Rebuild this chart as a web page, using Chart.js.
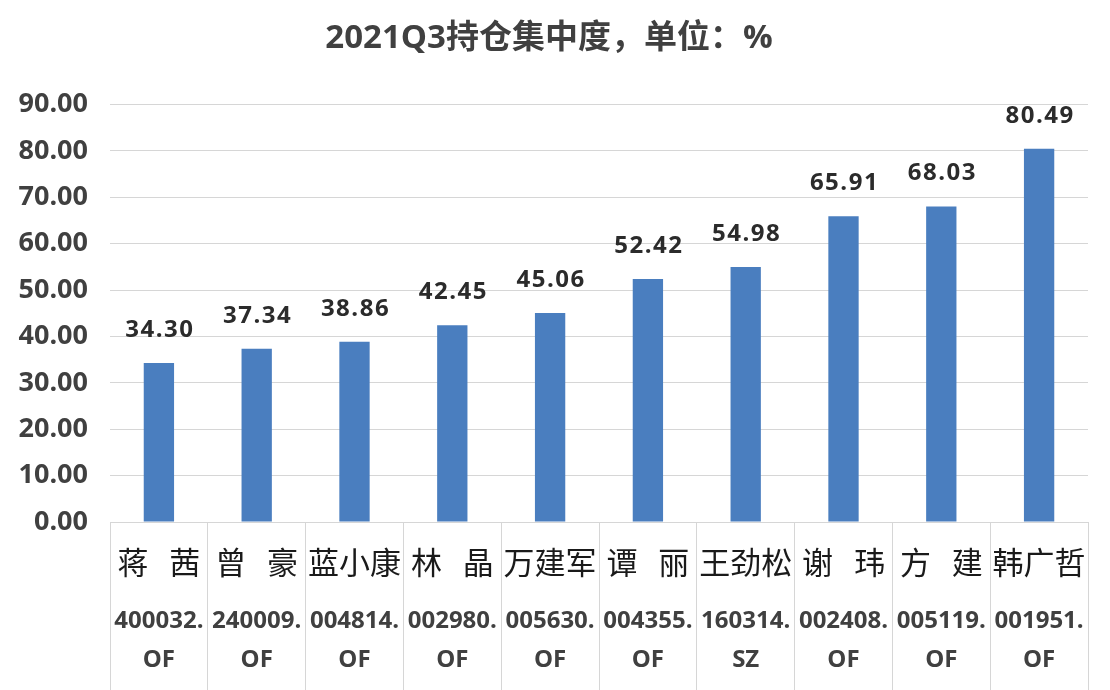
<!DOCTYPE html>
<html>
<head>
<meta charset="utf-8">
<script src="https://cdn.jsdelivr.net/npm/chart.js@4"></script>
<style>
html,body{margin:0;padding:0;background:#fff;}
#wrap{width:1110px;height:690px;position:relative;}
</style>
</head>
<body>
<div id="wrap"><canvas id="c"></canvas></div>
<script>
const titleText = '2021Q3持仓集中度，单位：%';
const managers = ['蒋   茜','曾   豪','蓝小康','林   晶','万建军','谭   丽','王劲松','谢   玮','方   建','韩广哲'];
const fundCodes = ['400032.','240009.','004814.','002980.','005630.','004355.','160314.','002408.','005119.','001951.'];
const codeSuffix = ['OF','OF','OF','OF','OF','OF','SZ','OF','OF','OF'];
const concentration = [34.30,37.34,38.86,42.45,45.06,52.42,54.98,65.91,68.03,80.49];
const yTicks = [0,10,20,30,40,50,60,70,80,90];

const codeLabels = fundCodes.map((c,i)=>[c, codeSuffix[i]]);

const valueLabels = {
  id:'valueLabels',
  afterDatasetsDraw(chart){
    const ctx = chart.ctx;
    const meta = chart.getDatasetMeta(0);
    ctx.save();
    ctx.font = 'bold 24px "Open Sans", "Noto Sans"';
    ctx.fillStyle = '#2b2b2b';
    ctx.textAlign = 'center';
    ctx.textBaseline = 'middle';
    try { ctx.letterSpacing = '1.5px'; } catch(e) {}
    meta.data.forEach((bar,i)=>{
      ctx.fillText(concentration[i].toFixed(2), bar.x + 1, bar.y - 33);
    });
    ctx.restore();
  }
};

const gridGray = '#d6d6d6';

new Chart(document.getElementById('c'), {
  type:'bar',
  data:{
    labels: managers,
    datasets:[{
      data: concentration,
      backgroundColor:'#4a7ebf',
      borderWidth:0,
      barPercentage:0.31,
      categoryPercentage:1.0,
      xAxisID:'x',
      yAxisID:'y'
    }]
  },
  options:{
    responsive:true,
    maintainAspectRatio:false,
    animation:false,
    layout:{padding:{left:10,right:22,top:0,bottom:10}},
    plugins:{
      legend:{display:false},
      tooltip:{enabled:false},
      title:{
        display:true,
        text:titleText,
        color:'#404040',
        font:{family:'"Open Sans", "Noto Sans CJK SC"',size:33,weight:'bold',lineHeight:1.2},
        padding:{top:19,bottom:46}
      }
    },
    scales:{
      y:{
        min:0,max:90,
        afterBuildTicks(s){ s.ticks = yTicks.map(v=>({value:v})); },
        afterFit(s){ s.width = 100; },
        border:{display:false},
        grid:{color:gridGray,drawTicks:false,lineWidth:1},
        ticks:{
          padding:22,
          color:'#404040',
          font:{family:'"Open Sans", "Noto Sans"',size:27,weight:'bold'},
          callback:(v)=>Number(v).toFixed(2)
        }
      },
      x:{
        type:'category',
        position:'bottom',
        labels: managers,
        afterFit(s){ s.height = 58; },
        border:{display:true,color:gridGray,width:1},
        grid:{offset:true,drawOnChartArea:false,drawTicks:true,tickLength:58,color:gridGray,lineWidth:1},
        ticks:{
          autoSkip:false,maxRotation:0,minRotation:0,
          padding:-36,
          color:'#1a1a1a',
          font:{family:'"Noto Sans CJK SC"',size:31,weight:'normal',lineHeight:1.2}
        }
      },
      x2:{
        type:'category',
        position:'bottom',
        labels: codeLabels,
        afterFit(s){ s.height = 100; },
        border:{display:false},
        grid:{offset:true,drawOnChartArea:false,drawTicks:true,tickLength:110,color:gridGray,lineWidth:1},
        ticks:{
          autoSkip:false,maxRotation:0,minRotation:0,
          padding:-89,
          color:'#404040',
          font:{family:'"Open Sans", "Noto Sans"',size:24,weight:'bold',lineHeight:1.65}
        }
      }
    }
  },
  plugins:[valueLabels]
});
</script>
</body>
</html>
